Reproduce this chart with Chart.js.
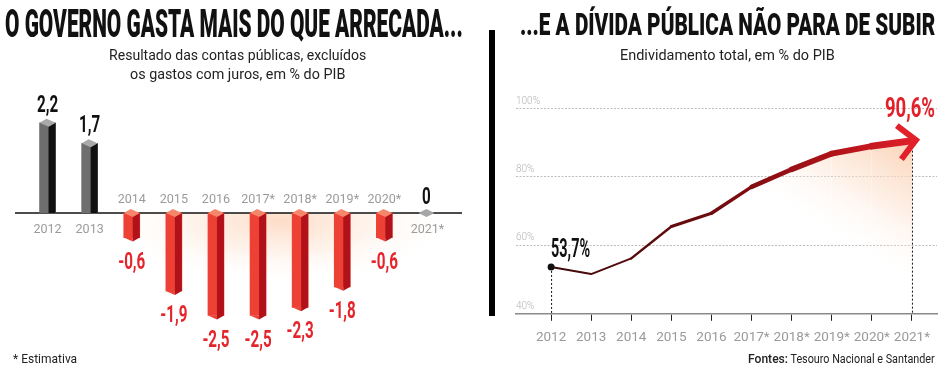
<!DOCTYPE html>
<html><head><meta charset="utf-8">
<script src="https://cdn.jsdelivr.net/npm/chart.js@4.4.1/dist/chart.umd.min.js"></script>
<style>
html,body{margin:0;padding:0;background:#fff;}
#wrap{position:relative;width:950px;height:375px;overflow:hidden;font-family:Roboto,'Noto Sans',sans-serif;}
.t{position:absolute;white-space:nowrap;transform-origin:0 0;line-height:1;}
.cw{position:absolute;top:0;height:375px;}
#divider{position:absolute;left:489px;top:30px;width:6px;height:286px;background:#000;}
</style></head><body>
<div id="wrap">
  <div class="cw" style="left:0;width:475px"><canvas id="c1"></canvas></div>
  <div class="cw" style="left:495px;width:455px"><canvas id="c2"></canvas></div>
  <div id="divider"></div>
  <div class="t" data-x="5" data-w="458" data-b="37" data-s="38" style="font-weight:900;color:#111">O GOVERNO GASTA MAIS DO QUE ARRECADA...</div>
  <div class="t" data-c="237.5" data-w="257" data-b="60.5" data-s="15" style="color:#222">Resultado das contas públicas, excluídos</div>
  <div class="t" data-c="237.5" data-w="215" data-b="79.5" data-s="15" style="color:#222">os gastos com juros, em % do PIB</div>
  <div class="t" data-x="520" data-w="415" data-b="35" data-s="31" style="font-weight:900;color:#111">...E A DÍVIDA PÚBLICA NÃO PARA DE SUBIR</div>
  <div class="t" data-c="727.5" data-w="215" data-b="60.5" data-s="15" style="color:#222">Endividamento total, em % do PIB</div>
  <div class="t" data-x="13" data-w="64" data-b="363" data-s="13.5" style="color:#222">* Estimativa</div>
  <div class="t" data-r="935" data-w="187" data-b="362.5" data-s="12" style="color:#222"><span style="font-size:1.12em;font-weight:500">Fontes:</span> Tesouro Nacional e Santander</div>
</div>
<script>
// ---- data ----
const years = ['2012','2013','2014','2015','2016','2017*','2018*','2019*','2020*','2021*'];
const primaryResult = [2.2, 1.7, -0.6, -1.9, -2.5, -2.5, -2.3, -1.8, -0.6, 0];
const debtYears = ['2012','2013','2014','2015','2016','2017*','2018*','2019*','2020*','2021*'];
const debt = [53.7, 51.6, 56.2, 65.5, 69.4, 77.1, 82.2, 86.8, 89.0, 90.6];
const debtTicks = [40, 60, 80, 100];

// ---- styles ----
const segWidths = [2, 2, 2.5, 3, 3.5, 4.5, 5.5, 6, 7];
const fmt = v => v === 0 ? '0' : v.toFixed(1).replace('.', ',');

document.querySelectorAll('.t').forEach(el => {
  const s = +el.dataset.s; el.style.fontSize = s + 'px';
  const w = el.offsetWidth, tw = +el.dataset.w;
  let left;
  if (el.dataset.c) left = +el.dataset.c - tw / 2;
  else if (el.dataset.r) left = +el.dataset.r - tw;
  else left = +el.dataset.x;
  el.style.left = left + 'px';
  el.style.top = (+el.dataset.b - 0.8415 * s) + 'px';
  el.style.transform = 'scaleX(' + (tw / w) + ')';
});

function drawCond(ctx, text, x, y, font, scale, align, color) {
  ctx.save();
  ctx.font = font; ctx.fillStyle = color; ctx.textBaseline = 'alphabetic'; ctx.textAlign = 'left';
  const w = ctx.measureText(text).width * scale;
  let left = x;
  if (align === 'center') left = x - w / 2; else if (align === 'right') left = x - w;
  ctx.translate(left, y); ctx.scale(scale, 1);
  ctx.fillText(text, 0, 0);
  ctx.restore();
}
function drawFit(ctx, text, x, y, font, width, align, color) {
  ctx.save(); ctx.font = font;
  const s = width / ctx.measureText(text).width;
  ctx.restore();
  drawCond(ctx, text, x, y, font, s, align, color);
}

// ---- left chart ----
const barPlugin = {
  id: 'bars3d',
  beforeDatasetsDraw(chart) {
    const ctx = chart.ctx, ys = chart.scales.y;
    const z = ys.getPixelForValue(0);
    ctx.save();
    ctx.beginPath(); ctx.rect(0, z, chart.width, chart.height - z); ctx.clip();
    ctx.translate(280, z + 8); ctx.scale(1, 0.36);
    const g = ctx.createRadialGradient(0, 0, 0, 0, 0, 175);
    g.addColorStop(0, 'rgba(252,212,185,0.8)');
    g.addColorStop(0.5, 'rgba(253,228,210,0.45)');
    g.addColorStop(1, 'rgba(255,255,255,0)');
    ctx.fillStyle = g; ctx.fillRect(-200, -200, 400, 400);
    ctx.restore();
    ctx.save(); ctx.strokeStyle = '#111'; ctx.lineWidth = 1.5;
    ctx.beginPath(); ctx.moveTo(15, z); ctx.lineTo(462, z); ctx.stroke(); ctx.restore();
  },
  afterDatasetsDraw(chart) {
    const ctx = chart.ctx, meta = chart.getDatasetMeta(0), ys = chart.scales.y;
    const z = ys.getPixelForValue(0);
    const vals = chart.data.datasets[0].data;
    const poly = (pts, c) => { ctx.beginPath(); ctx.moveTo(pts[0][0], pts[0][1]); for (let i = 1; i < pts.length; i++) ctx.lineTo(pts[i][0], pts[i][1]); ctx.closePath(); ctx.fillStyle = c; ctx.fill(); };
    meta.data.forEach((el, i) => {
      const v = vals[i], x = el.x, y = el.y, L = x - 8, M = x + 1, R = x + 8;
      const catFont = '13.5px Roboto';
      if (v > 0) {
        poly([[M, y + 4], [R, y], [R, z], [M, z]], '#111');
        poly([[L, y], [x - 1, y - 4], [R, y], [M, y + 4]], '#a9a9a9');
        drawCond(ctx, fmt(v), x, y - 11, 'bold 23px Roboto', 0.66, 'center', '#111');
        drawCond(ctx, years[i], x, z + 20, catFont, 0.93, 'center', '#9b9b9b');
      } else if (v < 0) {
        poly([[L, y], [M, y], [M, y + 4]], '#ee4136');
        poly([[M, z + 4], [R, z], [R, y], [M, y + 4]], '#b11219');
        poly([[L, z], [x - 1, z - 4], [R, z], [M, z + 4]], '#f4866c');
        drawCond(ctx, fmt(v), x, y + 31, 'bold 23px Roboto', 0.66, 'center', '#e4262c');
        drawCond(ctx, years[i], x, z - 10, catFont, 0.93, 'center', '#9b9b9b');
      } else {
        poly([[x - 8, z], [x, z - 4], [x + 8, z], [x, z + 4]], '#a6a6a6');
        drawCond(ctx, fmt(v), x, z - 9, 'bold 23px Roboto', 0.66, 'center', '#111');
        drawCond(ctx, years[i], x + 1, z + 20, catFont, 0.93, 'center', '#9b9b9b');
      }
    });
  }
};

new Chart(document.getElementById('c1'), {
  type: 'bar',
  data: { labels: years, datasets: [{
    data: primaryResult,
    backgroundColor: primaryResult.map(v => v > 0 ? '#6e6e6e' : (v < 0 ? '#ee4136' : 'rgba(0,0,0,0)')),
    borderWidth: 0, barThickness: 16
  }]},
  options: {
    animation: false, responsive: true, maintainAspectRatio: false,
    layout: { padding: { left: 26.5, right: 27.5, top: 98.2, bottom: 30.8 } },
    plugins: { legend: { display: false }, tooltip: { enabled: false } },
    scales: { x: { display: false }, y: { display: false, min: -3.2, max: 2.8 } }
  },
  plugins: [barPlugin]
});

// ---- right chart ----
const linePlugin = {
  id: 'debtDeco',
  beforeDatasetsDraw(chart) {
    const ctx = chart.ctx, xs = chart.scales.x, ys = chart.scales.y;
    ctx.save(); ctx.strokeStyle = '#111'; ctx.lineWidth = 1; ctx.setLineDash([2, 2]);
    const b = ys.getPixelForValue(debtTicks[0]);
    ctx.beginPath();
    ctx.moveTo(xs.getPixelForValue(0) + 0.5, ys.getPixelForValue(debt[0]));
    ctx.lineTo(xs.getPixelForValue(0) + 0.5, b);
    const n = debt.length - 1;
    ctx.moveTo(xs.getPixelForValue(n) + 0.5, ys.getPixelForValue(debt[n]) + 6);
    ctx.lineTo(xs.getPixelForValue(n) + 0.5, b);
    ctx.stroke(); ctx.restore();
  },
  afterDatasetsDraw(chart) {
    const ctx = chart.ctx, meta = chart.getDatasetMeta(0);
    const n = meta.data.length - 1;
    const p1 = meta.data[n - 1], p2 = meta.data[n];
    let dx = p2.x - p1.x, dy = p2.y - p1.y; const d = Math.hypot(dx, dy); dx /= d; dy /= d;
    const tx = p2.x + dx * 4, ty = p2.y + dy * 4;
    const rot = (ang) => { const c = Math.cos(ang), s = Math.sin(ang); return [-(dx * c - dy * s), -(dx * s + dy * c)]; };
    const a1 = rot(Math.PI / 4), a2 = rot(-Math.PI / 4), L = 24;
    ctx.save(); ctx.strokeStyle = '#e2202a'; ctx.lineWidth = 6; ctx.lineJoin = 'miter'; ctx.lineCap = 'butt';
    ctx.beginPath(); ctx.moveTo(tx + a1[0] * L, ty + a1[1] * L); ctx.lineTo(tx, ty); ctx.lineTo(tx + a2[0] * L, ty + a2[1] * L); ctx.stroke();
    ctx.restore();
    const p0 = meta.data[0];
    drawFit(ctx, fmt(debt[0]) + '%', p0.x, p0.y - 10, 'bold 26px Roboto', 39, 'left', '#111');
    drawFit(ctx, fmt(debt[n]) + '%', p2.x + 23, p2.y - 23.5, 'bold 28px Roboto', 50, 'right', '#e3202a');
  }
};

new Chart(document.getElementById('c2'), {
  type: 'line',
  data: { datasets: [{
    data: debt.map((v, i) => ({ x: i, y: v })),
    borderColor: (c) => {
      const ch = c.chart, a = ch.chartArea; if (!a) return '#7a0d10';
      const xs = ch.scales.x;
      const g = ch.ctx.createLinearGradient(xs.getPixelForValue(0), 0, xs.getPixelForValue(9), 0);
      g.addColorStop(0, '#3e0909'); g.addColorStop(0.45, '#6e0b0e'); g.addColorStop(0.8, '#b3131a'); g.addColorStop(1, '#df1f28');
      return g;
    },
    backgroundColor: (c) => {
      const ch = c.chart, a = ch.chartArea; if (!a) return 'rgba(0,0,0,0)';
      const xs = ch.scales.x, ys = ch.scales.y;
      const g = ch.ctx.createLinearGradient(xs.getPixelForValue(8.8), ys.getPixelForValue(91), xs.getPixelForValue(7.2), ys.getPixelForValue(60));
      g.addColorStop(0, 'rgba(250,203,170,0.85)'); g.addColorStop(0.5, 'rgba(252,225,206,0.5)'); g.addColorStop(1, 'rgba(255,255,255,0)');
      return g;
    },
    fill: 'start', tension: 0, borderWidth: 2,
    borderCapStyle: 'round', borderJoinStyle: 'round',
    pointRadius: debt.map((v, i) => i === 0 ? 3.5 : 0), pointBackgroundColor: '#111', pointBorderWidth: 0,
    segment: { borderWidth: (c) => segWidths[c.p0DataIndex] }
  }]},
  options: {
    animation: false, responsive: true, maintainAspectRatio: false,
    layout: { padding: { left: 21, right: 13, top: 108.5, bottom: 20 } },
    plugins: { legend: { display: false }, tooltip: { enabled: false } },
    scales: {
      x: { type: 'linear', min: -0.875, max: 9.625,
        ticks: { stepSize: 1, includeBounds: false, autoSkip: false, maxRotation: 0, padding: 9,
          callback: (v) => debtYears[v], color: '#9a9a9a', font: { family: 'Roboto', size: 13.5 } },
        grid: { display: true, drawOnChartArea: false, drawTicks: true, tickLength: 7, tickColor: '#222', tickWidth: 1 },
        border: { display: true, color: '#8a8a8a', width: 1.5 } },
      y: { min: debtTicks[0], max: debtTicks[debtTicks.length - 1],
        afterBuildTicks: (s) => { s.ticks = debtTicks.map(v => ({ value: v })); },
        ticks: { mirror: true, padding: 0, labelOffset: -7.5, callback: (v) => v + '%', color: '#b5b5b5', font: { family: 'Roboto', size: 10, weight: 300 } },
        grid: { color: '#bdbdbd', lineWidth: 1, drawTicks: false },
        border: { display: false, dash: [2, 1.5] } }
    }
  },
  plugins: [linePlugin]
});
</script>
</body></html>
